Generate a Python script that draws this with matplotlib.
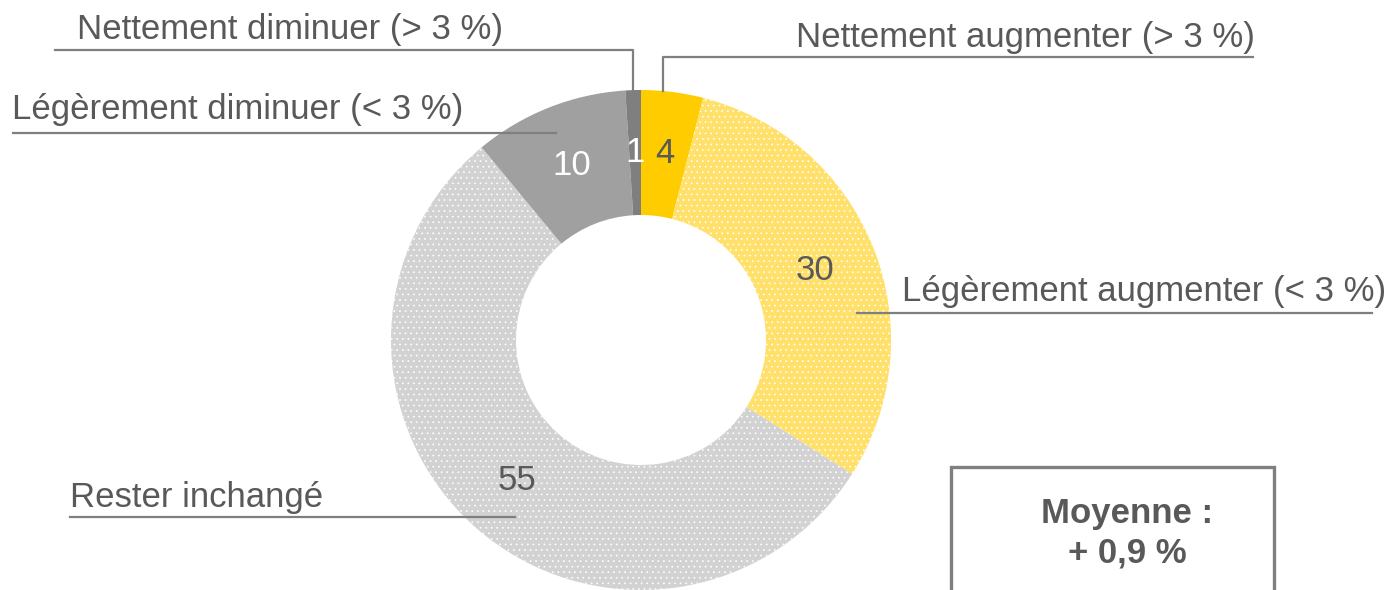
import matplotlib
matplotlib.use("Agg")
import matplotlib.pyplot as plt
from matplotlib.patches import Rectangle
import numpy as np

plt.rcParams["font.family"] = ["Liberation Sans", "DejaVu Sans"]
plt.rcParams["hatch.linewidth"] = 0.5

# data (clockwise from 12 o'clock)
categories = ["Nettement augmenter (> 3 %)", "Légèrement augmenter (< 3 %)",
              "Rester inchangé", "Légèrement diminuer (< 3 %)",
              "Nettement diminuer (> 3 %)"]
values = [4, 30, 55, 10, 1]
colors = ["#FFCC00", "#FFE06A", "#D2D2D2", "#A0A0A0", "#7F7F7F"]
hatches = [None, "...", "...", None, None]
value_colors = ["#595959", "#595959", "#595959", "white", "white"]
mean_text = "Moyenne :\n+ 0,9 %"

INK = "#595959"
LINE = "#7F7F7F"
W, H = 1389, 590
CX, CY, R = 641, 340, 250

fig = plt.figure(figsize=(W / 100, H / 100), dpi=100)
ax = fig.add_axes([0, 0, 1, 1])

wedges, _ = ax.pie(values, colors=colors, startangle=-90, counterclock=True,
                   radius=R, center=(CX, CY),
                   wedgeprops=dict(width=R * 0.5, linewidth=0))
for w, h in zip(wedges, hatches):
    if h:
        w.set_hatch(h)
        w.set_edgecolor("white")
        w.set_linewidth(0)

ax.set_xlim(0, W)
ax.set_ylim(H, 0)
ax.set_aspect("equal")
ax.axis("off")


def polar(w, frac, rad):
    # point inside wedge w at fraction frac of its sweep, radius rad
    ang = np.deg2rad(w.theta1 + frac * (w.theta2 - w.theta1))
    return CX + rad * np.cos(ang), CY + rad * np.sin(ang)


# value labels
for w, v, c in zip(wedges, values, value_colors):
    x, y = polar(w, 0.5, R * 0.75)
    ax.text(x, y, str(v), fontsize=25, color=c, ha="center", va="center")

# category labels with leader lines
lw = 1.6
# Nettement augmenter
x0, y0 = polar(wedges[0], 0.35, R)
ax.plot([x0, x0, 1253], [y0, 57, 57], color=LINE, lw=lw)
ax.text(1255, 38, categories[0], fontsize=25, color=INK, ha="right", va="center")
# Légèrement augmenter
x0, y0 = polar(wedges[1], 0.63, R * 0.87)
ax.plot([x0, 1372], [313, 313], color=LINE, lw=lw)
ax.text(1386, 292, categories[1], fontsize=25, color=INK, ha="right", va="center")
# Rester inchangé
x0, y0 = polar(wedges[2], 0.47, R * 0.87)
ax.plot([70, x0], [517, 517], color=LINE, lw=lw)
ax.text(70, 497, categories[2], fontsize=25, color=INK, ha="left", va="center")
# Légèrement diminuer
x0, y0 = polar(wedges[3], 0.5, R * 0.92)
ax.plot([13, x0], [133, 133], color=LINE, lw=lw)
ax.text(12, 110, categories[3], fontsize=25, color=INK, ha="left", va="center")
# Nettement diminuer
x0, y0 = polar(wedges[4], 0.5, R)
ax.plot([55, x0, x0], [50, 50, y0], color=LINE, lw=lw)
ax.text(77, 30, categories[4], fontsize=25, color=INK, ha="left", va="center")

# mean box
ax.add_patch(Rectangle((951, 467), 323, 200, fc="white", ec=LINE, lw=2.4,
                       clip_on=True))
ax.text(1127, 533, mean_text, fontsize=25, fontweight="bold", color=INK,
        ha="center", va="center", linespacing=1.25)

fig.savefig("out.png", dpi=100, facecolor="white")
